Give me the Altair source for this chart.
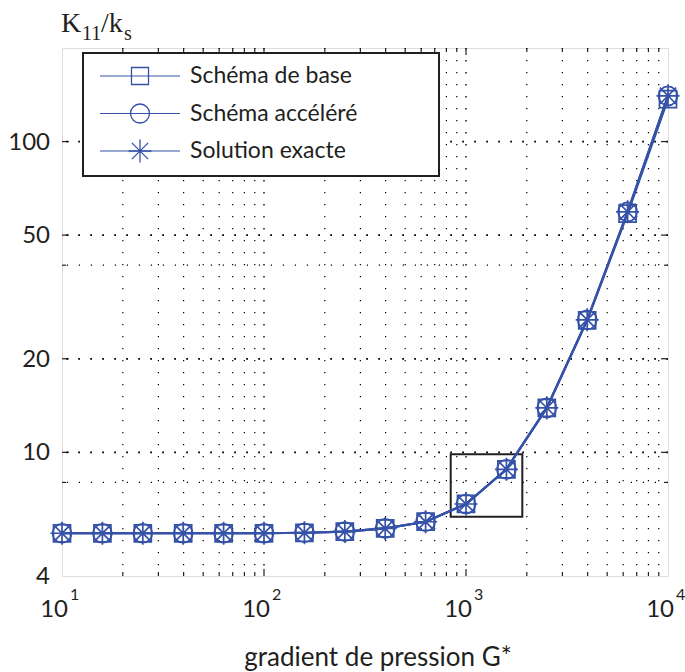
import altair as alt
import pandas as pd

# Pressure gradient G* (5 points per decade) and normalised permeability K11/ks
g_values = [10, 15.85, 25.12, 39.81, 63.10, 100, 158.5, 251.2, 398.1, 631.0,
            1000, 1585, 2512, 3981, 6310, 10000]
k_base = [5.49, 5.49, 5.49, 5.49, 5.49, 5.49, 5.51, 5.56, 5.69, 5.98,
          6.82, 8.82, 13.9, 26.6, 58.6, 137.0]
k_accel = [5.49, 5.49, 5.49, 5.49, 5.49, 5.49, 5.51, 5.56, 5.69, 5.98,
           6.82, 8.82, 13.9, 26.7, 59.4, 140.3]
k_exact = [5.49, 5.49, 5.49, 5.49, 5.49, 5.49, 5.51, 5.56, 5.69, 5.98,
           6.82, 8.82, 13.9, 26.7, 59.4, 140.3]
series_names = ["Schéma de base", "Schéma accéléré", "Solution exacte"]

y_tick_values = [4, 10, 20, 50, 100]
y_tick_labels = ["4", "10", "20", "50", "100"]
y_grid_major = [10, 20, 50, 100]
y_grid_minor = [8, 40]
x_tick_values = [10, 100, 1000, 10000]
x_tick_exponents = ["1", "2", "3", "4"]
x_grid_major = [100, 1000]
x_grid_minor = [m * 10 ** e for e in (1, 2, 3) for m in range(2, 10)]

# zoom window drawn around the transition region
box_g = [840, 1900]
box_k = [6.2, 9.85]

BLUE = "#3552a8"
INK = "#231f20"
SANS = "Lato"
SERIF = "Liberation Serif"
W, H = 606, 528

STAR = ("M-1,0L1,0M0,-1L0,1M-0.7071,-0.7071L0.7071,0.7071"
        "M-0.7071,0.7071L0.7071,-0.7071")
shapes = ["square", "circle", STAR]
sizes = [290, 360, 530]

xs = alt.Scale(type="log", domain=[10, 10000], nice=False)
ys = alt.Scale(type="log", domain=[4, 200], nice=False)

frames = []
for name, vals in zip(series_names, [k_base, k_accel, k_exact]):
    frames.append(pd.DataFrame({"G": g_values, "K": vals, "serie": name}))
data = pd.concat(frames, ignore_index=True)

layers = []

# dotted grid
hgrid_major = alt.Chart(pd.DataFrame({"K": y_grid_major})).mark_rule(
    color="black", strokeWidth=1.8, strokeDash=[1.8, 10.2]).encode(
    y=alt.Y("K:Q", scale=ys, axis=None))
hgrid_minor = alt.Chart(pd.DataFrame({"K": y_grid_minor})).mark_rule(
    color="black", strokeWidth=1.2, strokeDash=[1.2, 10.8]).encode(
    y=alt.Y("K:Q", scale=ys, axis=None))
vgrid_major = alt.Chart(pd.DataFrame({"G": x_grid_major})).mark_rule(
    color="black", strokeWidth=1.4, strokeDash=[1.4, 10.6]).encode(
    x=alt.X("G:Q", scale=xs, axis=None))
vgrid_minor = alt.Chart(pd.DataFrame({"G": x_grid_minor})).mark_rule(
    color="black", strokeWidth=1.2, strokeDash=[1.2, 10.8]).encode(
    x=alt.X("G:Q", scale=xs, axis=None))
layers += [vgrid_minor, vgrid_major, hgrid_minor, hgrid_major]

# inward ticks on all four sides
xt_major = pd.DataFrame({"G": x_grid_major})
xt_minor = pd.DataFrame({"G": x_grid_minor})
for df, ln in ((xt_major, 7), (xt_minor, 4)):
    layers.append(alt.Chart(df).mark_rule(color=INK, strokeWidth=1.2).encode(
        x=alt.X("G:Q", scale=xs, axis=None), y=alt.value(H), y2=alt.value(H - ln)))
    layers.append(alt.Chart(df).mark_rule(color=INK, strokeWidth=1.2).encode(
        x=alt.X("G:Q", scale=xs, axis=None), y=alt.value(0), y2=alt.value(ln)))
yt_major = pd.DataFrame({"K": y_grid_major})
yt_minor = pd.DataFrame({"K": y_grid_minor})
for df, ln in ((yt_major, 7), (yt_minor, 4)):
    layers.append(alt.Chart(df).mark_rule(color=INK, strokeWidth=1.2).encode(
        y=alt.Y("K:Q", scale=ys, axis=None), x=alt.value(0), x2=alt.value(ln)))
    layers.append(alt.Chart(df).mark_rule(color=INK, strokeWidth=1.2).encode(
        y=alt.Y("K:Q", scale=ys, axis=None), x=alt.value(W), x2=alt.value(W - ln)))

# y axis labels
ylab = pd.DataFrame({"K": y_tick_values, "txt": y_tick_labels})
layers.append(alt.Chart(ylab).mark_text(
    font=SANS, fontSize=24, color=INK, align="right", baseline="middle", dy=1).encode(
    y=alt.Y("K:Q", scale=ys, axis=None), x=alt.value(-12), text="txt:N"))

# x axis labels as 10 with a raised exponent
xlab = pd.DataFrame({"G": x_tick_values, "exp": x_tick_exponents})
layers.append(alt.Chart(xlab).mark_text(
    text="10", font=SANS, fontSize=24, color=INK, align="right", baseline="alphabetic",
    dx=6).encode(x=alt.X("G:Q", scale=xs, axis=None), y=alt.value(H + 41)))
layers.append(alt.Chart(xlab).mark_text(
    font=SANS, fontSize=16, color=INK, align="left", baseline="alphabetic",
    dx=8).encode(x=alt.X("G:Q", scale=xs, axis=None), y=alt.value(H + 24),
                 text="exp:N"))

# zoom box
box = pd.DataFrame({"G": [box_g[0]], "G2": [box_g[1]], "K": [box_k[0]], "K2": [box_k[1]]})
layers.append(alt.Chart(box).mark_rect(fill=None, stroke=INK, strokeWidth=2).encode(
    x=alt.X("G:Q", scale=xs, axis=None), x2="G2:Q",
    y=alt.Y("K:Q", scale=ys, axis=None), y2="K2:Q"))

# curves and markers
layers.append(alt.Chart(data).mark_line(color=BLUE, strokeWidth=2.2).encode(
    x=alt.X("G:Q", scale=xs, axis=None), y=alt.Y("K:Q", scale=ys, axis=None),
    detail="serie:N"))
for name, shp, sz in zip(series_names, shapes, sizes):
    layers.append(alt.Chart(data[data.serie == name]).mark_point(
        shape=shp, size=sz, filled=False, color=BLUE, strokeWidth=1.7, opacity=1).encode(
        x=alt.X("G:Q", scale=xs, axis=None), y=alt.Y("K:Q", scale=ys, axis=None)))

# legend box
one = pd.DataFrame({"a": [0]})
layers.append(alt.Chart(one).mark_rect(fill="white", stroke=INK, strokeWidth=2).encode(
    x=alt.value(21), x2=alt.value(377), y=alt.value(5), y2=alt.value(128)))
for i, (name, shp, sz) in enumerate(zip(series_names, shapes, sizes)):
    yy = 28 + i * 37.5
    lab = pd.DataFrame({"label": [name]})
    layers.append(alt.Chart(lab).mark_rule(color=BLUE, strokeWidth=1.2).encode(
        x=alt.value(38), x2=alt.value(118), y=alt.value(yy)))
    layers.append(alt.Chart(lab).mark_point(
        shape=shp, size=sz, filled=False, color=BLUE, strokeWidth=1.3, opacity=1).encode(
        x=alt.value(78), y=alt.value(yy)))
    layers.append(alt.Chart(lab).mark_text(
        font=SANS, fontSize=23, color=INK, align="left", baseline="middle").encode(
        x=alt.value(128), y=alt.value(yy), text="label:N"))

# axis titles
layers.append(alt.Chart(one).mark_text(
    text="gradient de pression G*", font=SANS, fontSize=26, color=INK,
    align="center", baseline="alphabetic").encode(x=alt.value(316), y=alt.value(618)))
for txt, xx, yy, fs in (("K", -1, -16, 28), ("11", 20, -8, 20), ("/k", 39, -16, 28),
                        ("s", 62, -8, 20)):
    layers.append(alt.Chart(one).mark_text(
        text=txt, font=SERIF, fontSize=fs, color=INK, align="left",
        baseline="alphabetic").encode(x=alt.value(xx), y=alt.value(yy)))

chart = alt.layer(*layers).properties(
    width=W, height=H,
    padding={"left": 62, "top": 48, "right": 17, "bottom": 96},
    autosize=alt.AutoSizeParams(type="none"),
).configure_view(stroke=INK, strokeWidth=2).configure(background="white")

chart.save("out.html", embed_options={"renderer": "svg", "actions": False})
